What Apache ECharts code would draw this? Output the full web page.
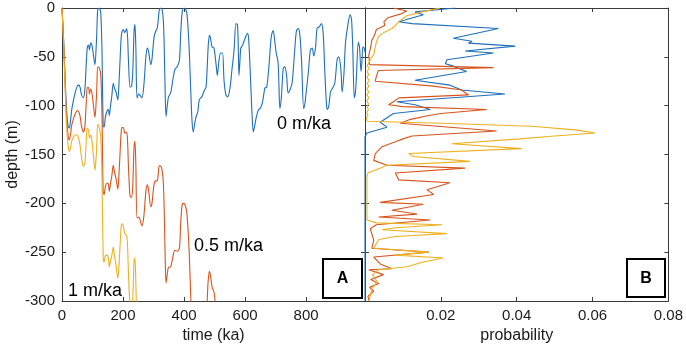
<!DOCTYPE html>
<html>
<head>
<meta charset="utf-8">
<script src="https://cdn.jsdelivr.net/npm/echarts@6/dist/echarts.min.js"></script>
<style>
html,body{margin:0;padding:0;background:#fff;}
#chart{width:686px;height:351px;}
</style>
</head>
<body>
<div id="chart"></div>
<script>
// Panel A: relative depth (m) vs time (ka), pairs [time, depth]
var rsl0 = [[0,0],[5,-30],[10,-70],[15,-105],[20,-121],[24,-123],[28,-115],[32,-104],[38,-94],[43,-87],[50,-80],[55,-79],[59,-81],[64,-89],[70,-92],[75,-84],[79,-60],[83,-40],[87,-38],[90,-43],[94,-36],[98,-38],[103,-48],[108,-58],[112,-40],[114,-26],[117,-2],[122,0],[127,-5],[131,-43],[135,-121],[138,-122],[142,-112],[147,-106],[152,-104],[155,-110],[159,-100],[163,-91],[168,-77],[172,-82],[177,-86],[183,-94],[187,-75],[190,-55],[194,-30],[197,-24],[201,-22],[205,-25],[208,-24],[212,-21],[215,-30],[218,-55],[223,-81],[228,-80],[232,-65],[236,-25],[239,-17],[242,-40],[246,-92],[252,-88],[257,-90],[262,-92],[268,-80],[275,-50],[280,-41],[284,-45],[291,-58],[295,-52],[302,-29],[308,-23],[312,-21],[316,-10],[319,-2],[324,0],[328,-2],[332,-12],[335,-40],[338,-85],[341,-111],[345,-100],[349,-91],[356,-87],[363,-74],[370,-63],[378,-60],[385,-53],[389,-26],[394,-4],[400,0],[405,-1],[409,-5],[413,-20],[417,-43],[422,-85],[426,-115],[430,-127],[434,-120],[438,-113],[445,-106],[450,-94],[458,-91],[467,-84],[472,-81],[476,-60],[479,-40],[483,-28],[486,-30],[492,-40],[498,-41],[505,-58],[509,-69],[514,-55],[520,-46],[526,-46],[531,-74],[537,-89],[543,-91],[551,-81],[557,-63],[564,-43],[570,-16],[575,-17],[578,-45],[580,-69],[583,-55],[586,-41],[592,-38],[600,-31],[608,-26],[612,-33],[619,-81],[623,-110],[627,-127],[632,-120],[636,-113],[644,-104],[649,-103],[656,-98],[662,-87],[665,-82],[671,-81],[678,-60],[686,-29],[692,-23],[697,-33],[702,-46],[708,-55],[711,-80],[714,-103],[719,-91],[725,-62],[730,-60],[736,-69],[741,-87],[747,-84],[754,-77],[762,-46],[768,-24],[774,-21],[779,-26],[785,-53],[792,-103],[796,-98],[800,-87],[807,-67],[814,-43],[820,-41],[825,-49],[831,-40],[836,-21],[844,-19],[850,-16],[856,-26],[861,-63],[866,-95],[869,-104],[874,-101],[880,-86],[887,-82],[894,-77],[902,-52],[907,-50],[914,-63],[918,-86],[924,-67],[929,-36],[936,-19],[944,-7],[949,-12],[953,-43],[958,-92],[962,-85],[965,-70],[971,-35],[975,-40],[980,-65],[983,-55],[986,-40],[990,-41],[993,-45]];

var rsl05 = [[0,0],[5,-32.5],[10,-75],[15,-112.5],[20,-131],[24,-135],[28,-129],[32,-120],[38,-113],[43,-108.5],[50,-105],[55,-106.5],[59,-110.5],[64,-121],[70,-127],[75,-121.5],[79,-99.5],[83,-81.5],[87,-81.5],[90,-88],[94,-83],[98,-87],[103,-99.5],[108,-112],[112,-96],[114,-83],[117,-60.5],[122,-61],[127,-68.5],[131,-108.5],[135,-188.5],[138,-191],[142,-183],[147,-179.5],[152,-180],[155,-187.5],[159,-179.5],[163,-172.5],[168,-161],[172,-168],[177,-174.5],[183,-185.5],[187,-168.5],[190,-150],[194,-127],[197,-122.5],[201,-122.5],[205,-127.5],[208,-128],[212,-127],[215,-137.5],[218,-164],[223,-192.5],[228,-194],[232,-181],[236,-143],[239,-136.5],[242,-161],[246,-215],[252,-214],[257,-218.5],[262,-223],[268,-214],[275,-187.5],[280,-181],[284,-187],[291,-203.5],[295,-199.5],[302,-180],[308,-177],[312,-177],[316,-168],[319,-161.5],[324,-162],[328,-166],[332,-178],[335,-207.5],[338,-254],[341,-281.5],[345,-272.5],[349,-265.5],[356,-265],[363,-255.5],[370,-248],[378,-249],[385,-245.5],[389,-220.5],[394,-201],[400,-200],[405,-203.5],[409,-209.5],[413,-226.5],[417,-251.5],[422,-296],[426,-328],[430,-342],[434,-337],[438,-332],[445,-328.5],[450,-319],[458,-320.5],[467,-317.5],[472,-317],[476,-298],[479,-279.5],[483,-269.5],[486,-273],[492,-286],[498,-290.5],[505,-310.5],[509,-323.5],[514,-312],[520,-306],[526,-309],[531,-339.5]];

var rsl1 = [[0,0],[5,-35],[10,-80],[15,-120],[20,-141],[24,-147],[28,-143],[32,-136],[38,-132],[43,-130],[50,-130],[55,-134],[59,-140],[64,-153],[70,-162],[75,-159],[79,-139],[83,-123],[87,-125],[90,-133],[94,-130],[98,-136],[103,-151],[108,-166],[112,-152],[114,-140],[117,-119],[122,-122],[127,-132],[131,-174],[135,-256],[138,-260],[142,-254],[147,-253],[152,-256],[155,-265],[159,-259],[163,-254],[168,-245],[172,-254],[177,-263],[183,-277],[187,-262],[190,-245],[194,-224],[197,-221],[201,-223],[205,-230],[208,-232],[212,-233],[215,-245],[218,-273],[223,-304],[228,-308],[232,-297],[236,-261],[239,-256],[242,-282],[246,-338]];

// Panel B: probability vs depth, pairs [probability, depth]
var prob0 = [[0.0238,0],[0.0132,-4],[0.0154,-7],[0.0089,-14],[0.0124,-16],[0.0352,-21],[0.0233,-31],[0.0282,-34],[0.0273,-36],[0.0396,-39],[0.0264,-44],[0.0339,-46],[0.0216,-53],[0.0212,-57],[0.0229,-59],[0.0268,-65],[0.0132,-74],[0.0224,-79],[0.0255,-84],[0.0369,-88],[0.0084,-96],[0.0132,-99],[0.0172,-104],[0.0075,-108],[0.0040,-117],[0.0058,-122],[0.0005,-128],[0,-132],[0,-300]];

var prob05 = [[0.0075,0],[0.0110,-3],[0.0095,-6],[0.0060,-10],[0.0050,-14],[0.0052,-18],[0.0030,-22],[0.0025,-28],[0.0018,-33],[0.0015,-40],[0.0010,-48],[0.0012,-58],[0.0339,-61],[0.0035,-64],[0.0030,-70],[0.0027,-75],[0.0181,-80],[0.0255,-84],[0.0265,-87],[0.0273,-89],[0.0089,-92],[0.0075,-96],[0.0062,-99],[0.0100,-101],[0.0321,-104],[0.0200,-108],[0.0168,-110],[0.0120,-114],[0.0093,-118],[0.0347,-126],[0.0124,-131],[0.0100,-134],[0.0080,-137],[0.0045,-142],[0.0027,-149],[0.0023,-156],[0.0058,-161],[0.0264,-164],[0.0080,-169],[0.0089,-176],[0.0224,-179],[0.0190,-183],[0.0163,-186],[0.0181,-191],[0.0040,-199],[0.0154,-201],[0.0071,-207],[0.0137,-211],[0.0036,-214],[0.0172,-217],[0.0030,-222],[0.0014,-226],[0.0023,-238],[0.0018,-246],[0.0168,-250],[0.0023,-255],[0.0040,-262],[0.0071,-267],[0.0010,-268],[0.0049,-273],[0.0015,-278],[0.0036,-282],[0.0012,-286],[0.0023,-290],[0.0008,-295],[0.0010,-300]];

var prob1 = [[0.0198,0],[0.0150,-4],[0.0110,-8],[0.0089,-14],[0.0080,-18],[0.0071,-21],[0.0050,-25],[0.0036,-29],[0.0030,-35],[0.0027,-40],[0.0023,-48],[0.0015,-52],[0.0010,-56],[0.0006,-59],[0.0011,-62],[0.0005,-65],[0.0010,-68],[0.0005,-71],[0.0011,-74],[0.0006,-77],[0.0010,-80],[0.0005,-83],[0.0010,-86],[0.0005,-89],[0.0010,-92],[0.0005,-95],[0.0009,-98],[0.0005,-101],[0.0009,-104],[0.0005,-107],[0.0008,-110],[0.0004,-113],[0.0006,-116],[0.0200,-118],[0.0440,-121],[0.0560,-125],[0.0606,-128],[0.0500,-131],[0.0408,-134],[0.0229,-139],[0.0413,-144],[0.0115,-149],[0.0128,-152],[0.0277,-157],[0.0058,-161],[0.0040,-164],[0.0020,-167],[0.0008,-169],[0.0005,-172],[0.0005,-217],[0.0030,-220],[0.0203,-222],[0.0080,-225],[0.0045,-227],[0.0216,-231],[0.0080,-234],[0.0036,-237],[0.0023,-246],[0.0168,-250],[0.0080,-253],[0.0207,-256],[0.0154,-260],[0.0110,-265],[0.0036,-268],[0.0020,-273],[0.0032,-280],[0.0025,-284],[0.0018,-287],[0.0014,-295],[0.0010,-300]];

var timeTicks = {min: 0, max: 993, interval: 200};
var depthTicks = {min: -300, max: 0, interval: 50};
var probTicks = {min: 0, max: 0.08, interval: 0.02};
var rateLabels = ['0 m/ka', '0.5 m/ka', '1 m/ka'];
var panelLabels = ['A', 'B'];
var colors = ['#1f6fbd', '#d9541d', '#edb120'];

var FONT = 'Liberation Sans, Arial, Helvetica, sans-serif';
var AX = '#3a3a3a';
function baseAxis(extra) {
  var a = {
    type: 'value',
    axisLine: {show: true, onZero: false, lineStyle: {color: AX, width: 1}},
    axisTick: {show: true, inside: true, length: 4, lineStyle: {color: AX}},
    axisLabel: {show: false},
    splitLine: {show: false}
  };
  for (var k in extra) a[k] = extra[k];
  return a;
}
var labelStyle = {show: true, fontSize: 15, color: '#1a1a1a', fontFamily: FONT, margin: 7};

var chart = echarts.init(document.getElementById('chart'), null, {renderer: 'canvas'});
var option = {
  animation: false,
  backgroundColor: '#fff',
  textStyle: {fontFamily: FONT},
  grid: [
    {left: 62, top: 8, width: 303, height: 293},
    {left: 365, top: 8, width: 304, height: 293}
  ],
  xAxis: [
    baseAxis({gridIndex: 0, position: 'bottom', min: timeTicks.min, max: timeTicks.max, interval: timeTicks.interval,
      axisLabel: Object.assign({}, labelStyle, {showMaxLabel: false}),
      name: 'time (ka)', nameLocation: 'middle', nameGap: 27,
      nameTextStyle: {fontSize: 16, color: '#1a1a1a', fontFamily: FONT}}),
    baseAxis({gridIndex: 0, position: 'top', min: timeTicks.min, max: timeTicks.max, interval: timeTicks.interval}),
    baseAxis({gridIndex: 1, position: 'bottom', min: probTicks.min, max: probTicks.max, interval: probTicks.interval,
      axisLabel: Object.assign({}, labelStyle, {showMinLabel: false}),
      name: 'probability', nameLocation: 'middle', nameGap: 27,
      nameTextStyle: {fontSize: 16, color: '#1a1a1a', fontFamily: FONT}}),
    baseAxis({gridIndex: 1, position: 'top', min: probTicks.min, max: probTicks.max, interval: probTicks.interval})
  ],
  yAxis: [
    baseAxis({gridIndex: 0, position: 'left', min: depthTicks.min, max: depthTicks.max, interval: depthTicks.interval,
      axisLabel: labelStyle,
      name: 'depth (m)', nameLocation: 'middle', nameGap: 40, nameRotate: 90,
      nameTextStyle: {fontSize: 16, color: '#1a1a1a', fontFamily: FONT}}),
    baseAxis({gridIndex: 0, position: 'right', min: depthTicks.min, max: depthTicks.max, interval: depthTicks.interval}),
    baseAxis({gridIndex: 1, position: 'left', min: depthTicks.min, max: depthTicks.max, interval: depthTicks.interval}),
    baseAxis({gridIndex: 1, position: 'right', min: depthTicks.min, max: depthTicks.max, interval: depthTicks.interval})
  ],
  series: [
    {type: 'line', xAxisIndex: 0, yAxisIndex: 0, data: rsl0, showSymbol: false, smooth: 0.3, clip: true, lineStyle: {color: colors[0], width: 1.1}},
    {type: 'line', xAxisIndex: 0, yAxisIndex: 0, data: rsl05, showSymbol: false, smooth: 0.3, clip: true, lineStyle: {color: colors[1], width: 1.1}},
    {type: 'line', xAxisIndex: 0, yAxisIndex: 0, data: rsl1, showSymbol: false, smooth: 0.3, clip: true, lineStyle: {color: colors[2], width: 1.1}},
    {type: 'line', xAxisIndex: 2, yAxisIndex: 2, data: prob0, showSymbol: false, clip: true, lineStyle: {color: colors[0], width: 1.1}},
    {type: 'line', xAxisIndex: 2, yAxisIndex: 2, data: prob05, showSymbol: false, clip: true, lineStyle: {color: colors[1], width: 1.1}},
    {type: 'line', xAxisIndex: 2, yAxisIndex: 2, data: prob1, showSymbol: false, clip: true, lineStyle: {color: colors[2], width: 1.1}}
  ],
  graphic: [
    {type: 'text', left: 277, top: 115, style: {text: rateLabels[0], fontSize: 18, fill: '#000', fontFamily: FONT}, z: 100},
    {type: 'text', left: 194, top: 237, style: {text: rateLabels[1], fontSize: 18, fill: '#000', fontFamily: FONT}, z: 100},
    {type: 'text', left: 68, top: 282, style: {text: rateLabels[2], fontSize: 18, fill: '#000', fontFamily: FONT}, z: 100},
    {type: 'rect', shape: {x: 323, y: 259, width: 39, height: 39}, style: {fill: '#fff', stroke: '#000', lineWidth: 2}, z: 100},
    {type: 'text', x: 342.5, y: 279, style: {text: panelLabels[0], fontSize: 16, fontWeight: 'bold', fill: '#000', fontFamily: FONT, align: 'center', verticalAlign: 'middle'}, z: 101},
    {type: 'rect', shape: {x: 627, y: 259, width: 38, height: 38}, style: {fill: '#fff', stroke: '#000', lineWidth: 2}, z: 100},
    {type: 'text', x: 646, y: 278.5, style: {text: panelLabels[1], fontSize: 16, fontWeight: 'bold', fill: '#000', fontFamily: FONT, align: 'center', verticalAlign: 'middle'}, z: 101}
  ]
};
chart.setOption(option);
</script>
</body>
</html>
